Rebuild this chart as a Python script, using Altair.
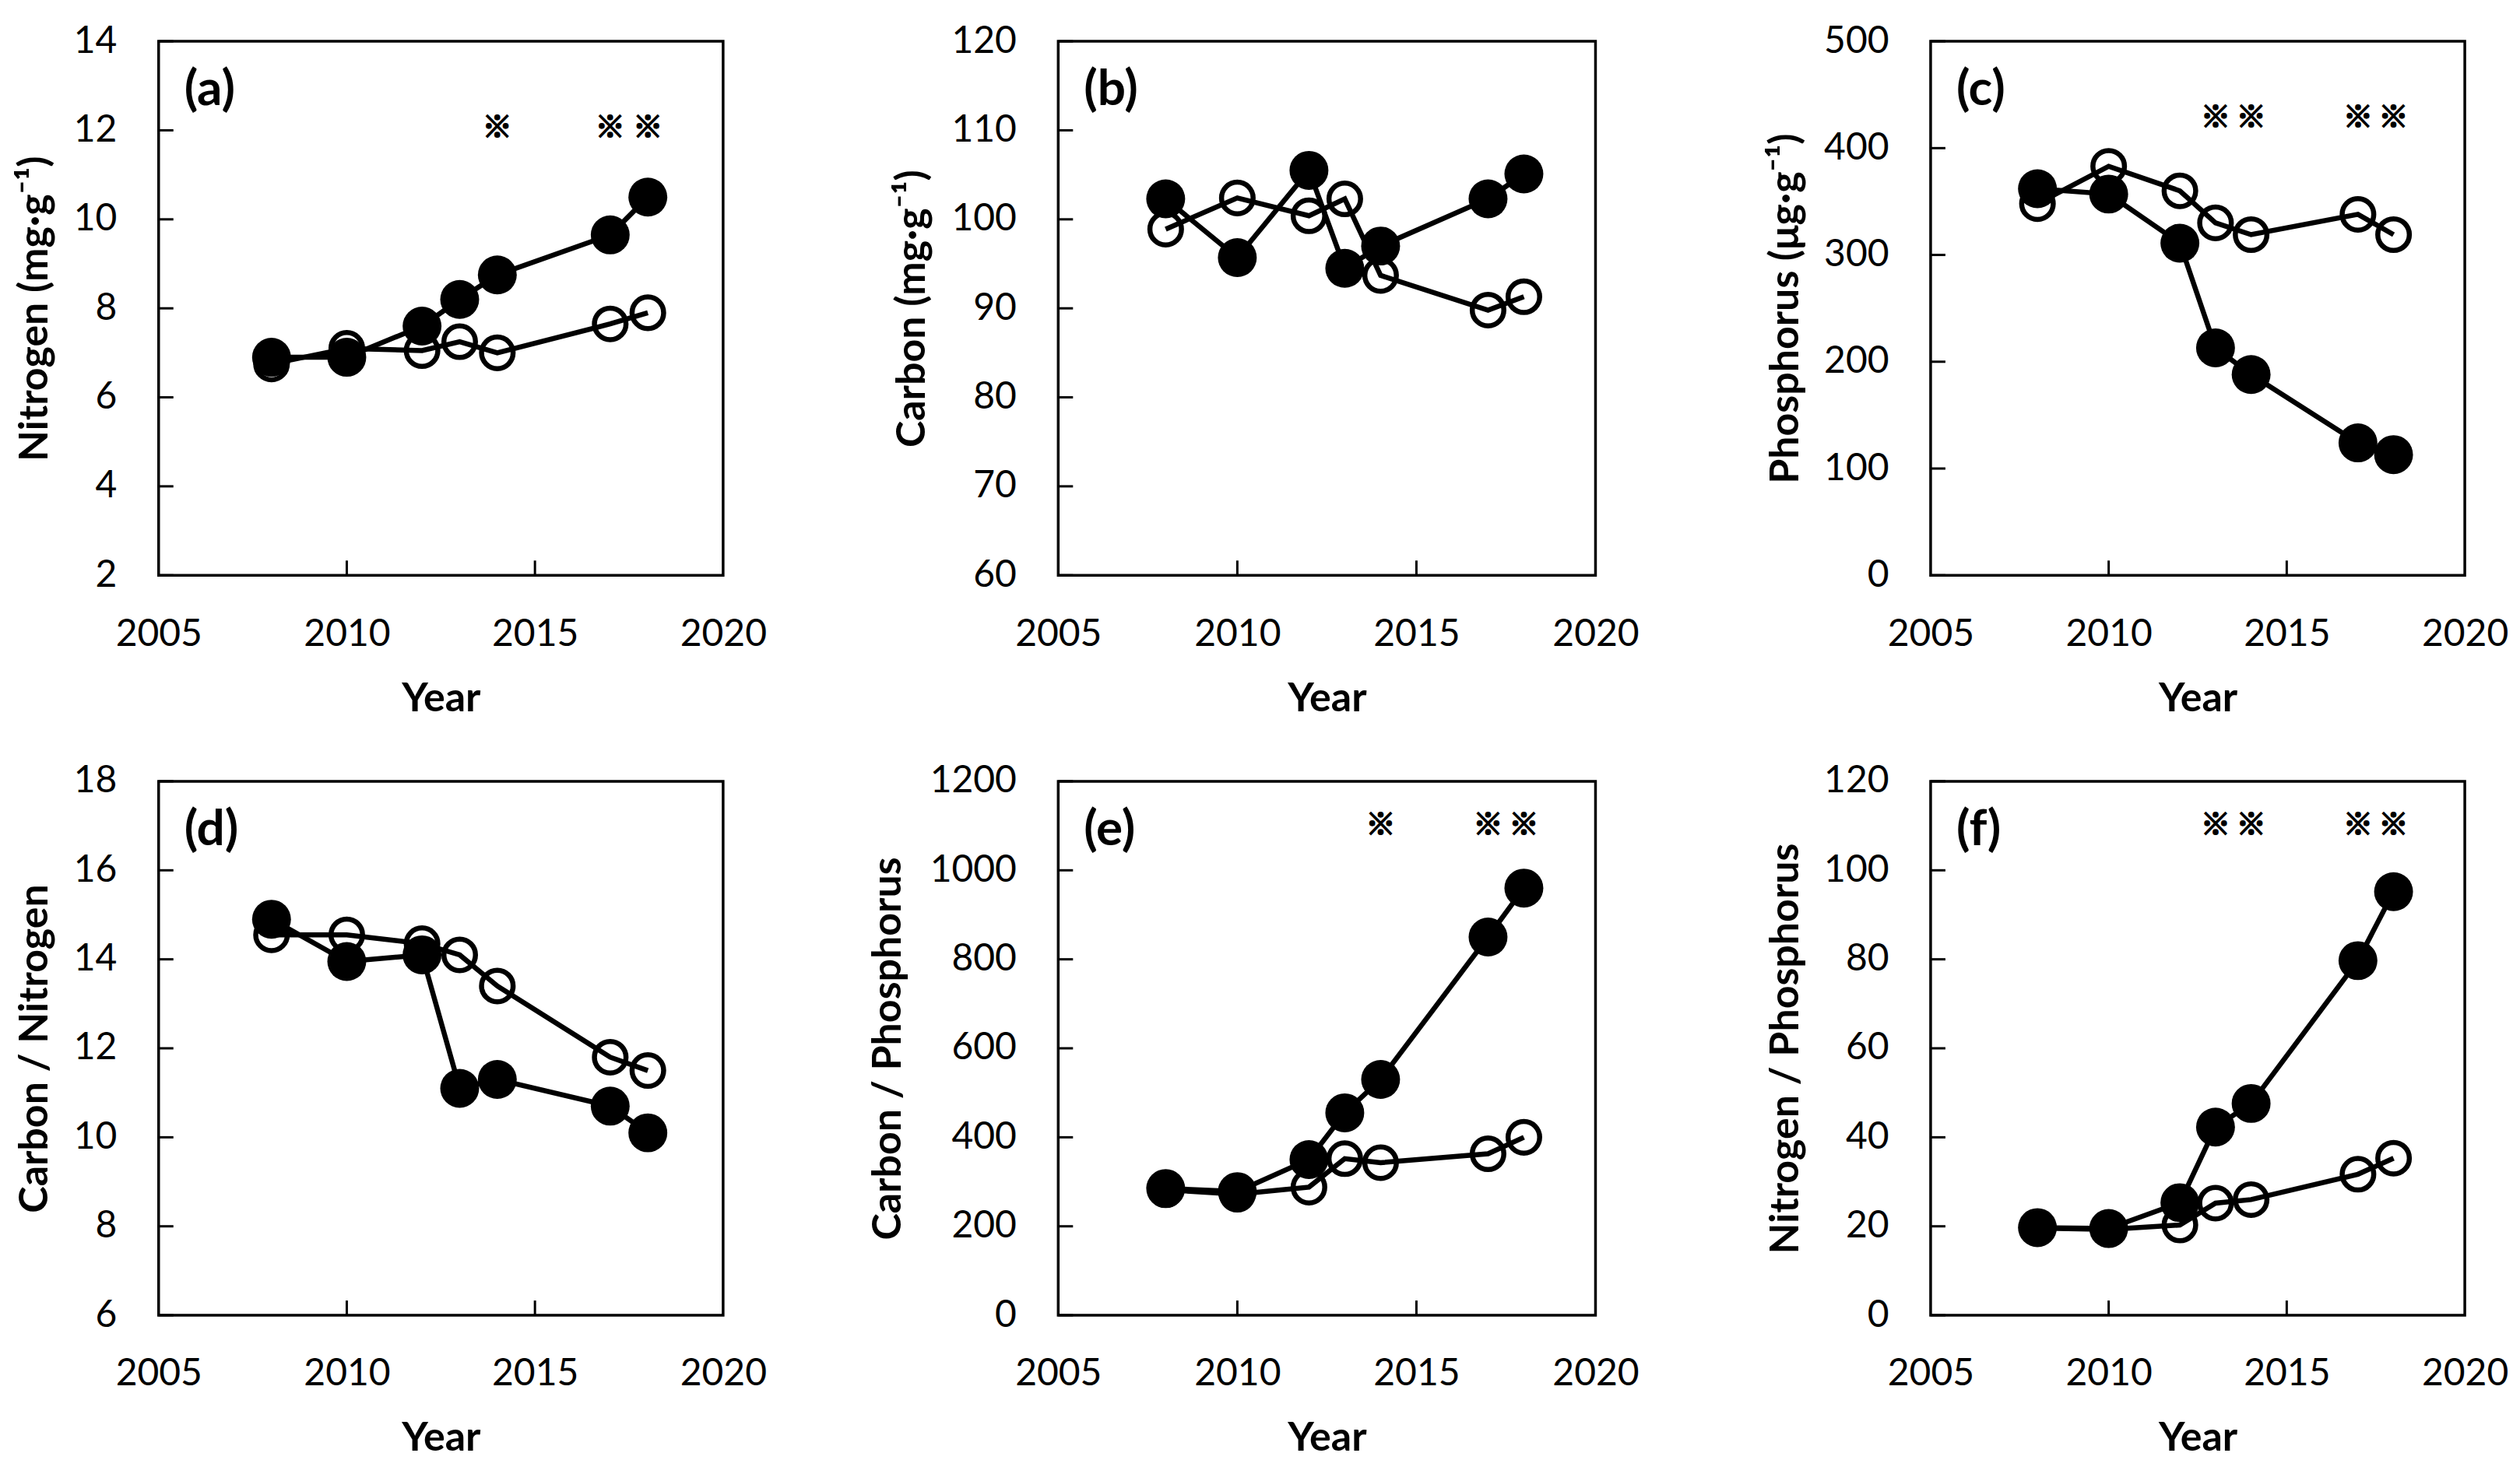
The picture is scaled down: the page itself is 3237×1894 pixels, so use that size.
import altair as alt
import pandas as pd

years = [2008, 2010, 2012, 2013, 2014, 2017, 2018]

# (a) Nitrogen (mg g-1)
a_fill = [6.9, 6.9, 7.6, 8.2, 8.75, 9.65, 10.5]
a_open = [6.75, 7.1, 7.05, 7.25, 7.0, 7.65, 7.9]
# (b) Carbon (mg g-1)
b_fill = [102.3, 95.7, 105.5, 94.5, 97.0, 102.3, 105.1]
b_open = [98.9, 102.4, 100.4, 102.3, 93.7, 89.8, 91.3]
# (c) Phosphorus (ug g-1)
c_fill = [362, 357, 311, 213, 188, 124, 113]
c_open = [348, 383, 360, 330, 319, 338, 319]
# (d) Carbon / Nitrogen
d_fill = [14.9, 13.95, 14.1, 11.1, 11.3, 10.7, 10.1]
d_open = [14.55, 14.55, 14.35, 14.1, 13.4, 11.8, 11.5]
# (e) Carbon / Phosphorus
e_fill = [285, 278, 350, 455, 530, 850, 960]
e_open = [282, 272, 288, 352, 343, 363, 400]
# (f) Nitrogen / Phosphorus
f_fill = [19.7, 19.5, 25.3, 42.3, 47.6, 79.7, 95.2]
f_open = [19.6, 19.3, 20.3, 25.2, 26.0, 31.7, 35.3]

x_ticks = [2005, 2010, 2015, 2020]
x_inner_ticks = [2010, 2015]

panel_labels = ["(a)", "(b)", "(c)", "(d)", "(e)", "(f)"]
y_titles = ["Nitrogen (mg·g⁻¹)", "Carbon (mg·g⁻¹)", "Phosphorus (μg·g⁻¹)",
            "Carbon / Nitrogen", "Carbon / Phosphorus", "Nitrogen / Phosphorus"]
y_ticks = [
    [2, 4, 6, 8, 10, 12, 14],
    [60, 70, 80, 90, 100, 110, 120],
    [0, 100, 200, 300, 400, 500],
    [6, 8, 10, 12, 14, 16, 18],
    [0, 200, 400, 600, 800, 1000, 1200],
    [0, 20, 40, 60, 80, 100, 120],
]
star_years = [[2014, 2017, 2018], [], [2013, 2014, 2017, 2018],
              [], [2014, 2017, 2018], [2013, 2014, 2017, 2018]]
star_level = [12.05, None, 428, None, 1100, 110]

fills = [a_fill, b_fill, c_fill, d_fill, e_fill, f_fill]
opens = [a_open, b_open, c_open, d_open, e_open, f_open]

col_widths = [726, 691, 687]
title_x = [-159, -188, -187, -159, -219, -187]
H = 687
TICK = 19
FONT = "Lato"


def make_panel(i):
    w = col_widths[i % 3]
    ticks = y_ticks[i]
    yscale = alt.Scale(domain=[ticks[0], ticks[-1]], nice=False, zero=False)
    xscale = alt.Scale(domain=[2005, 2020], nice=False, zero=False)
    xenc = alt.X("Year:Q", scale=xscale,
                 axis=alt.Axis(values=x_ticks, format="d", title="Year",
                               labelPadding=52, titleX=w / 2, titleY=158,
                               titleBaseline="middle"))
    yenc = alt.Y("Value:Q", scale=yscale,
                 axis=alt.Axis(values=ticks, format="d", title=y_titles[i],
                               labelPadding=54, titleX=title_x[i], titleY=H / 2,
                               titleAngle=270, titleBaseline="middle"))

    df_fill = pd.DataFrame({"Year": years, "Value": fills[i]})
    df_open = pd.DataFrame({"Year": years, "Value": opens[i]})
    df_yt = pd.DataFrame({"Value": ticks})
    df_xt = pd.DataFrame({"Year": x_inner_ticks})

    layers = []
    layers.append(alt.Chart(df_yt).mark_rule(color="black", strokeWidth=3).encode(
        y=yenc, x=alt.value(0), x2=alt.value(TICK)))
    layers.append(alt.Chart(df_xt).mark_rule(color="black", strokeWidth=3).encode(
        x=xenc, y=alt.value(H), y2=alt.value(H - TICK)))
    layers.append(alt.Chart(df_open).mark_line(color="black", strokeWidth=6.5).encode(x=xenc, y=yenc))
    layers.append(alt.Chart(df_open).mark_point(shape="circle", filled=False, color="black",
                                                 strokeWidth=6.5, size=1650, opacity=1).encode(x=xenc, y=yenc))
    layers.append(alt.Chart(df_fill).mark_line(color="black", strokeWidth=6.5).encode(x=xenc, y=yenc))
    layers.append(alt.Chart(df_fill).mark_point(shape="circle", filled=True, color="black",
                                                 size=2500, opacity=1).encode(x=xenc, y=yenc))
    if star_years[i]:
        df_star = pd.DataFrame({"Year": star_years[i],
                                "Value": [star_level[i]] * len(star_years[i]),
                                "mark": ["※"] * len(star_years[i])})
        layers.append(alt.Chart(df_star).mark_text(font="Noto Sans CJK JP", fontSize=38,
                                                    fontWeight="bold", color="black",
                                                    stroke="black", strokeWidth=2,
                                                    baseline="middle").encode(
            x=xenc, y=yenc, text="mark:N"))
    df_lab = pd.DataFrame({"label": [panel_labels[i]]})
    layers.append(alt.Chart(df_lab).mark_text(font=FONT, fontSize=64, fontWeight="bold",
                                               color="black", align="left",
                                               baseline="middle").encode(
        text="label:N", x=alt.value(33), y=alt.value(63)))
    return alt.layer(*layers).properties(width=w, height=H)


panels = [make_panel(i) for i in range(6)]

chart = alt.concat(*panels, columns=3, spacing={"row": 265, "column": 431},
                   align="each", bounds="flush",
                   padding={"left": 9, "top": 18, "right": 5, "bottom": 5}).configure(
    background="white"
).configure_view(
    stroke="black", strokeWidth=3.5
).configure_axis(
    grid=False, ticks=False, domain=False,
    labelFont=FONT, labelFontSize=48, labelColor="black",
    titleFont=FONT, titleFontSize=52, titleFontWeight="bold", titleColor="black",
    labelOverlap=False, labelBound=False, labelFlush=False
)

chart.save("out.html", embed_options={"renderer": "svg", "actions": False})
